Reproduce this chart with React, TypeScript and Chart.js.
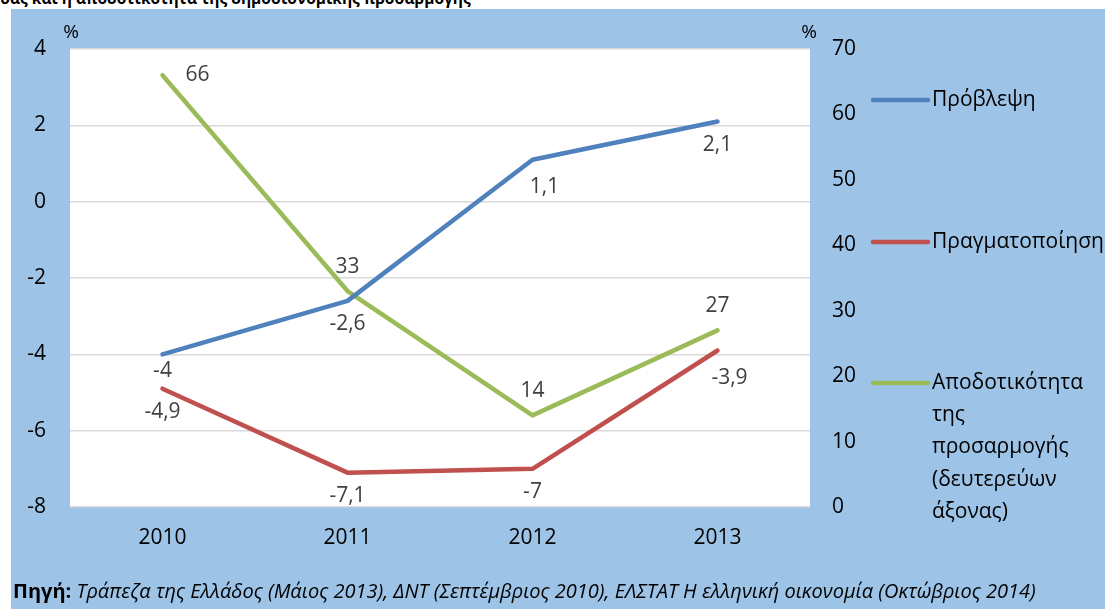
import React, { useEffect, useRef } from "react";
import { Chart, registerables } from "chart.js";

Chart.register(...registerables);

const years = ["2010", "2011", "2012", "2013"];
const forecast = [-4, -2.6, 1.1, 2.1];
const actual = [-4.9, -7.1, -7, -3.9];
const efficiency = [66, 33, 14, 27];

const forecastLabelPos = ["belowNear", "below", "belowRight", "below"];
const actualLabelPos = ["below", "below", "below", "belowRight"];
const efficiencyLabelPos = ["right", "above", "above", "above"];

const seriesNames = ["Πρόβλεψη", "Πραγματοποίηση", "Αποδοτικότητα της προσαρμογής (δευτερεύων άξονας)"];
const legendLines = [["Πρόβλεψη"], ["Πραγματοποίηση"], ["Αποδοτικότητα", "της", "προσαρμογής", "(δευτερεύων", "άξονας)"]];

const leftMin = -8, leftMax = 4, leftStep = 2;
const rightMin = 0, rightMax = 70, rightStep = 10;

const titleText = "ύας και η αποδοτικότητα της δημοσιονομικής προσαρμογής";
const sourceBold = "Πηγή:";
const sourceText = " Τράπεζα της Ελλάδος (Μάιος 2013), ΔΝΤ (Σεπτέμβριος 2010), ΕΛΣΤΑΤ Η ελληνική οικονομία (Οκτώβριος 2014)";

const FONT = "'Open Sans', 'Noto Sans', sans-serif";
const COLORS = ["#4F81BD", "#C0504D", "#9BBB59"];

const fmt = (v: number) => String(v).replace(".", ",");

export default function App() {
  const ref = useRef<HTMLCanvasElement | null>(null);

  useEffect(() => {
    if (!ref.current) return;
    const positions = [forecastLabelPos, actualLabelPos, efficiencyLabelPos];

    const bgPlugin = {
      id: "plotBg",
      beforeDraw(chart: any) {
        const { ctx, chartArea } = chart;
        ctx.save();
        ctx.fillStyle = "#FFFFFF";
        ctx.fillRect(chartArea.left, chartArea.top, chartArea.right - chartArea.left, chartArea.bottom - chartArea.top);
        ctx.restore();
      },
    };

    const labelPlugin = {
      id: "dataLabels",
      afterDatasetsDraw(chart: any) {
        const { ctx } = chart;
        ctx.save();
        ctx.font = `21px ${FONT}`;
        ctx.fillStyle = "#404040";
        ctx.textAlign = "center";
        ctx.textBaseline = "middle";
        chart.data.datasets.forEach((ds: any, di: number) => {
          const meta = chart.getDatasetMeta(di);
          meta.data.forEach((pt: any, i: number) => {
            const p = positions[di][i];
            let dx = 0, dy = 0;
            if (p === "below") dy = 23;
            else if (p === "belowNear") dy = 17;
            else if (p === "above") dy = -24;
            else if (p === "right") dx = 35;
            else if (p === "belowRight") { dx = 12; dy = 27; }
            ctx.fillText(fmt(ds.data[i]), pt.x + dx, pt.y + dy);
          });
        });
        ctx.restore();
      },
    };

    const extrasPlugin = {
      id: "extras",
      afterDraw(chart: any) {
        const { ctx, chartArea } = chart;
        ctx.save();
        ctx.fillStyle = "#000000";
        ctx.font = `19px ${FONT}`;
        ctx.textAlign = "center";
        ctx.textBaseline = "middle";
        ctx.fillText("%", chartArea.left + 1, chartArea.top - 16);
        ctx.fillText("%", chartArea.right - 1, chartArea.top - 16);

        // legend
        const lx = chartArea.right + 63;
        const lineW = 55;
        const rowY = [chartArea.top + 51, chartArea.top + 193, chartArea.top + 334];
        ctx.font = `21px ${FONT}`;
        ctx.textAlign = "left";
        legendLines.forEach((lines, i) => {
          ctx.strokeStyle = COLORS[i];
          ctx.lineWidth = 4.5;
          ctx.lineCap = "round";
          ctx.beginPath();
          ctx.moveTo(lx, rowY[i]);
          ctx.lineTo(lx + lineW, rowY[i]);
          ctx.stroke();
          ctx.fillStyle = "#000000";
          lines.forEach((t, k) => {
            ctx.fillText(t, lx + lineW + 4, rowY[i] + k * 32.2);
          });
        });
        ctx.restore();
      },
    };

    const chart = new Chart(ref.current, {
      type: "line",
      data: {
        labels: years,
        datasets: [
          { label: seriesNames[0], data: forecast, yAxisID: "y", borderColor: COLORS[0], borderWidth: 4.5, pointRadius: 0, borderCapStyle: "round", borderJoinStyle: "round", tension: 0 },
          { label: seriesNames[1], data: actual, yAxisID: "y", borderColor: COLORS[1], borderWidth: 4.5, pointRadius: 0, borderCapStyle: "round", borderJoinStyle: "round", tension: 0 },
          { label: seriesNames[2], data: efficiency, yAxisID: "y1", borderColor: COLORS[2], borderWidth: 4.5, pointRadius: 0, borderCapStyle: "round", borderJoinStyle: "round", tension: 0 },
        ],
      } as any,
      options: {
        animation: false,
        responsive: false,
        maintainAspectRatio: false,
        layout: { padding: { top: 40, left: 0, right: 0, bottom: 0 } },
        plugins: { legend: { display: false }, tooltip: { enabled: false } },
        scales: {
          x: {
            offset: true,
            grid: { display: false, drawTicks: false },
            border: { display: false },
            ticks: { color: "#000000", font: { family: FONT, size: 21 }, padding: 18 },
            afterFit(scale: any) { scale.height = 102; },
          },
          y: {
            position: "left",
            min: leftMin,
            max: leftMax,
            grid: { color: "#D9D9D9", lineWidth: 1.5, drawTicks: false },
            border: { display: false },
            ticks: { stepSize: leftStep, color: "#000000", font: { family: FONT, size: 21 }, padding: 24, callback: (v: any) => fmt(v) },
            afterFit(scale: any) { scale.width = 59; },
          },
          y1: {
            position: "right",
            min: rightMin,
            max: rightMax,
            grid: { display: false, drawTicks: false },
            border: { display: false },
            ticks: { stepSize: rightStep, color: "#000000", font: { family: FONT, size: 21 }, padding: 22 },
            afterFit(scale: any) { scale.width = 295; },
          },
        },
      } as any,
      plugins: [bgPlugin, labelPlugin, extrasPlugin],
    });
    return () => chart.destroy();
  }, []);

  return (
    <div style={{ position: "fixed", left: 0, top: 0, width: 1105, height: 609, background: "#FFFFFF", overflow: "hidden" }}>
      <div style={{ position: "absolute", left: 0, top: -12, whiteSpace: "nowrap", fontFamily: FONT, fontWeight: 700, fontSize: 15.5, lineHeight: "20px", color: "#000" }}>
        {titleText}
      </div>
      <div style={{ position: "absolute", left: 11, top: 9, width: 1094, height: 600, background: "#9DC3E6" }}>
        <canvas ref={ref} width={1094} height={600} style={{ display: "block", width: 1094, height: 600 }} />
        <div style={{ position: "absolute", left: 2, top: 568, whiteSpace: "nowrap", fontFamily: FONT, fontSize: 20, color: "#000" }}>
          <span style={{ fontWeight: 700 }}>{sourceBold}</span>
          <span style={{ fontStyle: "italic" }}>{sourceText}</span>
        </div>
      </div>
    </div>
  );
}
